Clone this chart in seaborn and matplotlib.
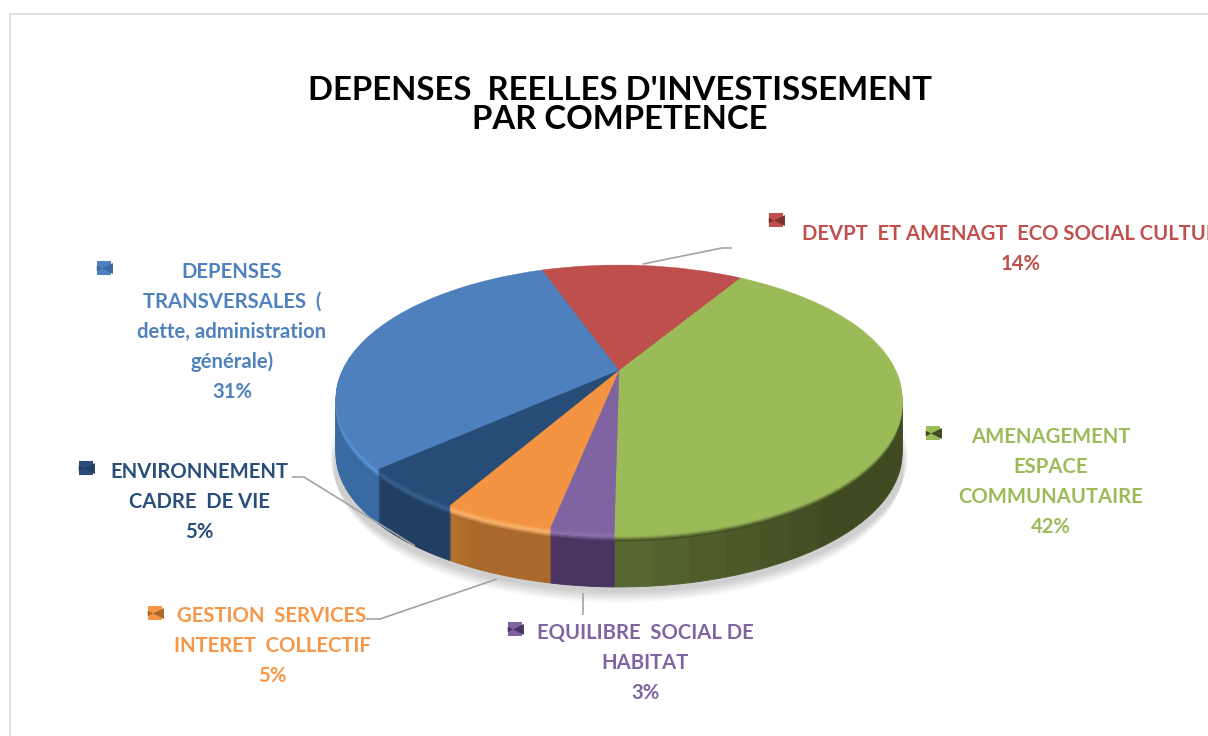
import numpy as np
import matplotlib
matplotlib.use('Agg')
import matplotlib.pyplot as plt
import matplotlib.transforms as mtransforms
import seaborn as sns

# data
categories = ['AMENAGEMENT\nESPACE\nCOMMUNAUTAIRE',
              'EQUILIBRE  SOCIAL DE\nHABITAT',
              'GESTION  SERVICES\nINTERET  COLLECTIF',
              'ENVIRONNEMENT\nCADRE  DE VIE',
              'DEPENSES\nTRANSVERSALES  (\ndette, administration\ngénérale)',
              'DEVPT  ET AMENAGT  ECO SOCIAL CULTUREL']
shares = [41.55, 2.94, 5.17, 5.08, 31.2, 14.06]  # labels round them
title = "DEPENSES  REELLES D'INVESTISSEMENT\nPAR COMPETENCE"

# colours
top_colors = ['#9BBB59', '#8064A2', '#F39442', '#274C77', '#4D80BD', '#BE4F4C']
rim_colors = ['#9BBB59', '#8E72B0', '#FBB56E', '#3A6290', '#5A96DC', '#BE4F4C']
wall_left = ['#414B22', '#4A3460', '#A9692C', '#213F63', '#3A6AA2', '#7A302E']
wall_right = ['#566730', '#4A3460', '#B5732F', '#213F63', '#4379B8', '#7A302E']

# layout, in pixels of the picture
label_pos = [(1051, 482), (645, 663), (272, 646), (199, 502), (232, 332), (1021, 249)]
key_pos = [(933, 433), (515, 629), (155, 613), (86, 468), (104, 268), (776, 220)]
leaders = [([643, 722, 732], [264, 248, 248]),
           ([292, 304, 415], [477, 477, 546]),
           ([366, 380, 497], [619, 619, 579]),
           ([583, 583], [593, 615])]
CX, CY = 619, 370
A, B, K = 127.4, 276.5, 0.2135
DEPTH = 55
START = 58.8


class Tilt(mtransforms.Transform):
    # projects the flat unit pie on the tilted disc
    input_dims = 2
    output_dims = 2

    def __init__(self, drop=0):
        super().__init__()
        self.drop = drop

    def transform_non_affine(self, xy):
        xy = np.asarray(xy)
        d = 1 + K * xy[:, 1]
        return np.column_stack([CX + B * xy[:, 0] / d,
                                CY - A * xy[:, 1] / d + self.drop])


def draw_pie(ax, values, colors, drop, radius=1, alpha=None, lw=0.6):
    wedges, _ = ax.pie(values, colors=colors, startangle=START, counterclock=False,
                       radius=radius)
    tr = Tilt(drop) + ax.transData
    for w in wedges:
        w.set_transform(tr)
        w.set_edgecolor(w.get_facecolor())
        w.set_linewidth(lw)
        if alpha is not None:
            w.set_alpha(alpha)


sns.set_theme(style='white')
plt.rcParams['font.family'] = ['Lato', 'DejaVu Sans']

fig = plt.figure(figsize=(12.08, 7.36), dpi=100, facecolor='white')
ax = fig.add_axes([0, 0, 1, 1])

# soft shadow under the pie
for i in range(12):
    draw_pie(ax, [sum(shares)], ['black'], DEPTH + 1 + i * 1.3,
             radius=1.02 - i * 0.0015, alpha=0.016, lw=0)

# side wall, split in thin slices for the shading
n_shade = 24
wall_values = np.repeat(np.array(shares) / n_shade, n_shade)
wall_palette = []
for left, right in zip(wall_left, wall_right):
    wall_palette += sns.blend_palette([left, left, left, left, right], n_shade)
for drop in np.arange(DEPTH, 9, -2.0):
    draw_pie(ax, wall_values, wall_palette, drop)

# bevel between wall and top
for drop in np.arange(9, 0, -1.0):
    colors = []
    for wall, rim, top in zip(wall_left, rim_colors, top_colors):
        colors.append(sns.blend_palette([top, rim, wall], 10)[int(drop)])
    draw_pie(ax, shares, colors, drop)

draw_pie(ax, shares, top_colors, 0, lw=0.3)

# leader lines
for xs, ys in leaders:
    ax.plot(xs, ys, color='#A3A3A3', lw=1.2, solid_capstyle='butt')

# labels and legend keys
palette = sns.color_palette(['#9BBB59', '#8064A2', '#F79646', '#2A4E7A', '#4F81BD', '#C0504D'])
darks = sns.color_palette(wall_left)
for cat, val, (x, y), (kx, ky), col, dark in zip(categories, shares, label_pos, key_pos, palette, darks):
    ax.text(x, y, f'{cat}\n{val:.0f}%', ha='center', va='center', color=col,
            fontsize=14.6, fontweight='bold', linespacing=1.61)
    ax.scatter([kx], [ky], marker='s', s=105, color=col, linewidths=0, zorder=5)
    ax.scatter([kx + 3], [ky], marker='<', s=62, color=dark, linewidths=0, zorder=6)
    ax.scatter([kx - 5], [ky], marker='>', s=16, color=dark, linewidths=0, zorder=6)

ax.text(620, 105, title, ha='center', va='center', color='black',
        fontsize=23.7, fontweight='bold', linespacing=0.98)

# frame of the copied sheet
ax.plot([10, 10, 1208], [736, 14, 14], color='#DFDFDF', lw=1.4)

ax.set_aspect('auto')
ax.set_xlim(0, 1208)
ax.set_ylim(736, 0)
ax.axis('off')

fig.savefig('out.png', dpi=100)
